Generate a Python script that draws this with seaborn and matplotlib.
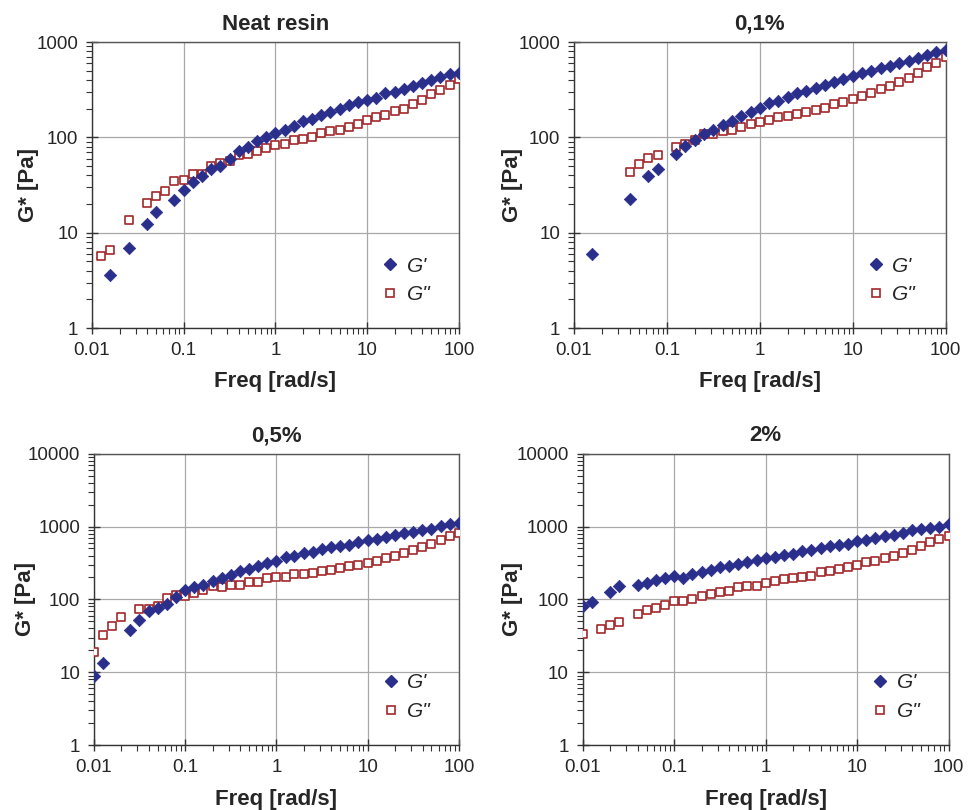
import numpy as np
import pandas as pd
import matplotlib
matplotlib.use('Agg')
import matplotlib.pyplot as plt
import matplotlib.ticker as mticker
from matplotlib.lines import Line2D
import seaborn as sns

# frequency grid (rad/s), 10 points per decade
freq = [0.01, 0.0126, 0.0158, 0.02, 0.0251, 0.0316, 0.0398, 0.0501, 0.0631, 0.0794,
        0.1, 0.126, 0.158, 0.2, 0.251, 0.316, 0.398, 0.501, 0.631, 0.794,
        1, 1.26, 1.58, 2, 2.51, 3.16, 3.98, 5.01, 6.31, 7.94,
        10, 12.6, 15.8, 20, 25.1, 31.6, 39.8, 50.1, 63.1, 79.4, 100]
N = None

# Neat resin
neat_g1 = [N, N, 3.57, N, 6.97, N, 12.4, 16.5, N, 22.2,
           27.8, 33.7, 39.0, 46.5, 49.6, 59.7, 71.3, 79.2, 90.8, 101,
           111, 120, 131, 147, 156, 174, 186, 197, 217, 235,
           248, 261, 292, 301, 319, 343, 371, 399, 426, 458, 477]
neat_g2 = [N, 5.74, 6.63, N, 13.7, N, 20.6, 24.4, 27.4, 34.8,
           36.0, 40.9, 40.9, 49.6, 54.2, 56.0, 64.7, 67.4, 71.9, 76.7,
           83.8, 85.9, 93.1, 96.8, 101, 112, 116, 119, 128, 137,
           151, 162, 170, 189, 201, 222, 248, 287, 311, 357, 406]
# 0,1 %
p01_g1 = [N, N, 5.94, N, N, N, 22.7, N, 39.7, 47.0,
          N, 67.5, 81.8, 93.8, 108, 120, 136, 147, 166, 187,
          206, 229, 244, 268, 291, 307, 328, 355, 379, 407,
          441, 470, 502, 539, 561, 598, 633, 686, 731, 792, 825]
p01_g2 = [N, N, N, N, N, N, 43.1, 52.6, 60.8, 64.8,
          N, 79.3, 85.9, 93.0, 109, 108, 117, 120, 128, 138,
          145, 153, 163, 167, 175, 187, 193, 206, 225, 238,
          256, 273, 295, 323, 350, 385, 421, 474, 544, 603, 692]
# 0,5 %
p05_g1 = [8.9, 13.6, N, N, 38.2, 52.5, 68.3, 75.2, 86.3, 107,
          136, 146, 157, 181, 195, 216, 248, 261, 285, 313,
          340, 378, 399, 430, 453, 493, 520, 536, 565, 609,
          656, 677, 713, 768, 810, 853, 900, 929, 1011, 1066, 1111]
p05_g2 = [19.0, 32.6, 42.5, 56.5, N, 73.6, 73.6, 81.8, 103, 115,
          112, 121, 134, 151, 146, 159, 159, 175, 175, 195,
          201, 201, 223, 223, 230, 243, 256, 267, 285, 300,
          316, 333, 367, 399, 434, 482, 530, 577, 662, 752, 818]
# 2 %
p2_g1 = [82.0, 92.0, N, 126, 153, N, 158, 167, 185, 195,
         210, 199, 221, 240, 253, 275, 290, 302, 328, 345,
         364, 384, 404, 426, 462, 482, 508, 535, 552, 582,
         632, 659, 694, 731, 755, 812, 883, 910, 949, 1000, 1087]
p2_g2 = [33.8, N, 38.7, 44.4, 48.7, N, 63.2, 72.4, 76.3, 84.7,
         95.9, 95.9, 101, 110, 119, 126, 131, 146, 155, 155,
         170, 179, 189, 195, 201, 210, 235, 245, 258, 281,
         296, 321, 338, 364, 396, 434, 482, 535, 613, 680, 739]

titles = ['Neat resin', '0,1%', '0,5%', '2%']
x_ticks = [0.01, 0.1, 1, 10, 100]
x_labels = ['0.01', '0.1', '1', '10', '100']
y_ticks_top = [1, 10, 100, 1000]
y_ticks_bot = [1, 10, 100, 1000, 10000]

sns.set_style('white')
plt.rcParams['font.family'] = ['Liberation Sans', 'DejaVu Sans']

fig = plt.figure(figsize=(9.68, 8.1), dpi=100)
positions = [[0.095, 0.595, 0.379, 0.353],
             [0.593, 0.595, 0.384, 0.353],
             [0.097, 0.080, 0.377, 0.360],
             [0.602, 0.080, 0.378, 0.360]]
ylabel_x = [-0.145, -0.136, -0.16, -0.162]
series = [(neat_g1, neat_g2), (p01_g1, p01_g2), (p05_g1, p05_g2), (p2_g1, p2_g2)]

navy = '#2b2f8c'
red = '#a3282b'

for i, (pos, (g1, g2)) in enumerate(zip(positions, series)):
    ax = fig.add_axes(pos)
    df = pd.DataFrame({'freq': freq,
                       'g1': np.array(g1, dtype=float),
                       'g2': np.array(g2, dtype=float)})
    sns.scatterplot(data=df, x='freq', y='g2', marker='s', s=34,
                    facecolor='white', edgecolor=red, linewidth=1.2,
                    ax=ax, zorder=3, legend=False)
    sns.scatterplot(data=df, x='freq', y='g1', marker='D', s=40,
                    color=navy, edgecolor=navy, linewidth=0.5,
                    ax=ax, zorder=4, legend=False)
    ax.set_xscale('log')
    ax.set_yscale('log')
    ax.set_xlim(0.01, 100)
    yt = y_ticks_top if i < 2 else y_ticks_bot
    ax.set_ylim(yt[0], yt[-1])
    ax.set_xticks(x_ticks)
    ax.set_xticklabels(x_labels)
    ax.set_yticks(yt)
    ax.set_yticklabels([str(v) for v in yt])
    ax.xaxis.set_minor_locator(mticker.LogLocator(base=10, subs=np.arange(2, 10), numticks=20))
    ax.yaxis.set_minor_locator(mticker.LogLocator(base=10, subs=np.arange(2, 10), numticks=20))
    ax.xaxis.set_minor_formatter(mticker.NullFormatter())
    ax.yaxis.set_minor_formatter(mticker.NullFormatter())
    ax.tick_params(which='both', bottom=True, left=True, top=False, right=False)
    ax.tick_params(which='major', direction='inout', length=8, width=1,
                   color='#333333', labelsize=13.5, pad=6)
    ax.tick_params(which='minor', direction='out', length=4, width=0.8, color='#333333')
    ax.grid(True, which='major', color='#a8a8a8', linewidth=0.9)
    ax.grid(False, which='minor')
    for sp in ax.spines.values():
        sp.set_color('#555555')
        sp.set_linewidth(1.0)
    ax.spines['left'].set_color('#333333')
    ax.spines['bottom'].set_color('#333333')
    ax.set_title(titles[i], fontsize=16, fontweight='bold', pad=9)
    ax.set_xlabel('Freq [rad/s]', fontsize=16, fontweight='bold', labelpad=9)
    ax.set_ylabel('G* [Pa]', fontsize=16, fontweight='bold')
    ax.yaxis.set_label_coords(ylabel_x[i], 0.5)

    handles = [Line2D([], [], linestyle='none', marker='D', markersize=6,
                      color=navy, markeredgecolor=navy),
               Line2D([], [], linestyle='none', marker='s', markersize=6,
                      markerfacecolor='white', markeredgecolor=red, markeredgewidth=1.2)]
    ax.legend(handles, ["G'", 'G"'],
              loc='lower left', bbox_to_anchor=(0.75, 0.055), frameon=False,
              prop={'style': 'italic', 'size': 15}, handletextpad=0.1,
              handlelength=1.4, labelspacing=0.45, borderaxespad=0)

fig.savefig('out.png', dpi=100)
